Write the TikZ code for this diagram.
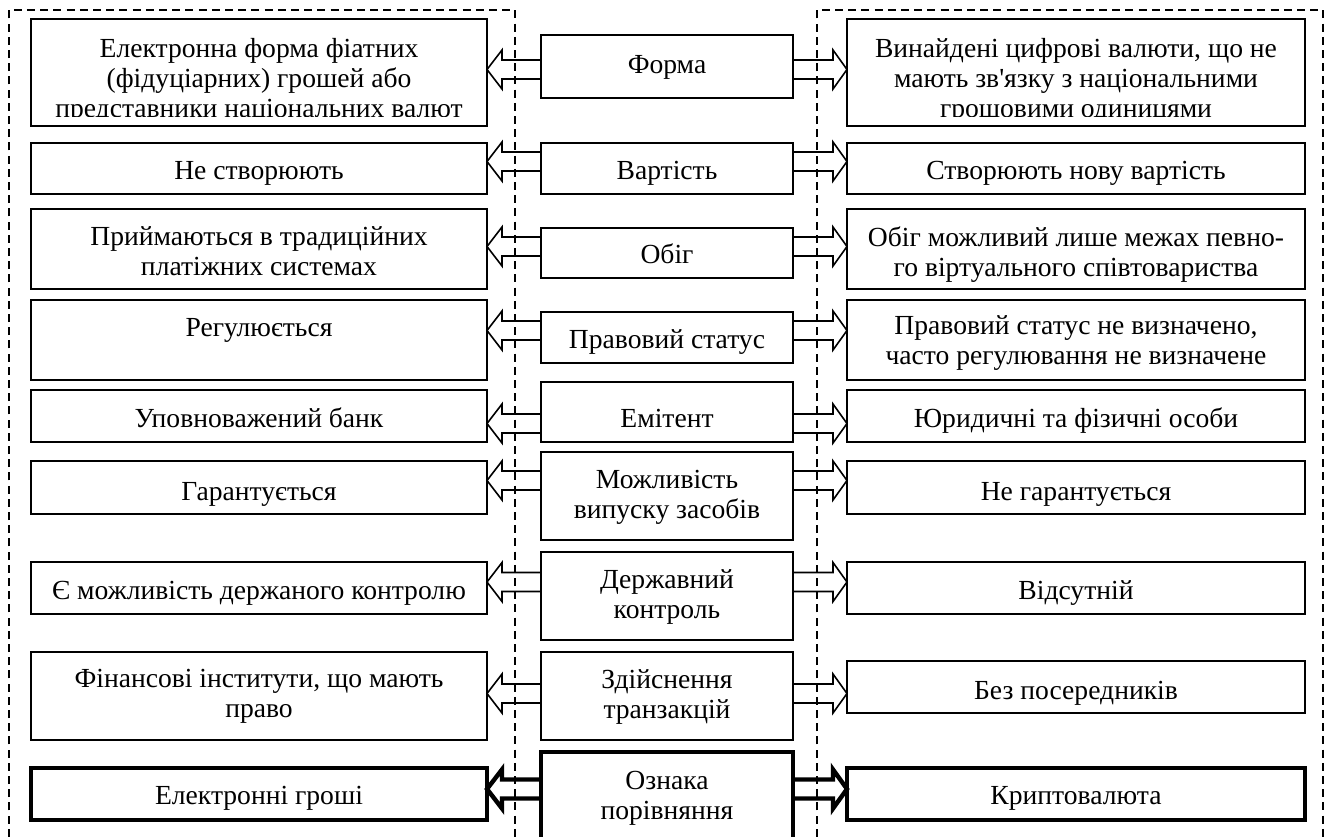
\documentclass[tikz,border=0pt]{standalone}
\usepackage{fontspec}
\setmainfont{Liberation Serif}
\usetikzlibrary{calc}
\tikzset{
  box/.style={draw, line width=1pt, inner sep=0pt, outer sep=0pt, fill=none},
  thickbox/.style={line width=2.2pt},
  txt/.style={inner sep=0pt, align=center, font=\fontsize{13.8}{15}\selectfont, yshift=-1.5pt,
    execute at begin node=\strut, execute at end node=\strut},
  arr/.style={draw, line width=0.8pt, miter limit=20},
  thickarr/.style={line width=2.2pt},
  dashline/.style={draw, line width=0.8pt, dash pattern=on 4pt off 2.6pt},
}
\newcommand{\bx}[6][]{%
  \node[box,#1,minimum width={(#4-#2)*0.5pt},minimum height={(#5-#3)*0.5pt}] (#6) at ({(#2+#4)/2},{(#3+#5)/2}) {};}
% #1 options, #2 middle node, #3 left node, #4 right node, #5 y centre
\newcommand{\twoarr}[5][]{%
  \draw[arr,#1] ($(#2.west |- 0,#5)+(0,-9.5)$) -- ($(#3.east |- 0,#5)+(15,-9.5)$) -- ++(0,-10)
     -- (#3.east |- 0,#5) -- ++(15,19.5) -- ++(0,-10) -- ($(#2.west |- 0,#5)+(0,9.5)$);
  \draw[arr,#1] ($(#2.east |- 0,#5)+(0,-9.5)$) -- ($(#4.west |- 0,#5)+(-14,-9.5)$) -- ++(0,-10)
     -- (#4.west |- 0,#5) -- ++(-14,19.5) -- ++(0,-10) -- ($(#2.east |- 0,#5)+(0,9.5)$);}
\begin{document}
\begin{tikzpicture}[x=0.5pt,y=-0.5pt]
\clip (0,0) rectangle (1328,836);
\fill[white] (0,0) rectangle (1328,836);
% dashed frames
\draw[dashline] (9,850) -- (9,10) -- (515,10) -- (515,850);
\draw[dashline] (817,850) -- (817,10) -- (1323,10) -- (1323,850);
% boxes
\bx{31}{19}{487}{126}{L1} \bx{541}{35}{793}{98}{M1} \bx{847}{19}{1305}{126}{R1}
\bx{31}{143}{487}{194}{L2} \bx{541}{143}{793}{194}{M2} \bx{847}{143}{1305}{194}{R2}
\bx{31}{209}{487}{289}{L3} \bx{541}{228}{793}{278}{M3} \bx{847}{209}{1305}{289}{R3}
\bx{31}{300}{487}{380}{L4} \bx{541}{312}{793}{363}{M4} \bx{847}{300}{1305}{380}{R4}
\bx{31}{390}{487}{442}{L5} \bx{541}{382}{793}{442}{M5} \bx{847}{390}{1305}{442}{R5}
\bx{31}{461}{487}{514}{L6} \bx{541}{452}{793}{540}{M6} \bx{847}{461}{1305}{514}{R6}
\bx{31}{562}{487}{614}{L7} \bx{541}{552}{793}{640}{M7} \bx{847}{562}{1305}{614}{R7}
\bx{31}{652}{487}{740}{L8} \bx{541}{652}{793}{740}{M8} \bx{847}{661}{1305}{713}{R8}
\bx[thickbox]{31}{768}{487}{820}{L9} \bx[thickbox]{541}{752}{793}{870}{M9} \bx[thickbox]{847}{768}{1305}{820}{R9}
% arrows
\twoarr{M1}{L1}{R1}{69.5}
\twoarr{M2}{L2}{R2}{161.5}
\twoarr{M3}{L3}{R3}{246.5}
\twoarr{M4}{L4}{R4}{330.5}
\twoarr{M5}{L5}{R5}{423.5}
\twoarr{M6}{L6}{R6}{480.5}
\twoarr{M7}{L7}{R7}{582}
\twoarr{M8}{L8}{R8}{693.5}
\twoarr[thickarr]{M9}{L9}{R9}{789}
% texts
\begin{scope}
\clip (L1.north west) rectangle ($(L1.south east)+(0,-10)$);
\node[txt] (L1t) at (259,79) {Електронна форма фіатних\\(фідуціарних) грошей або\\представники національних валют};
\end{scope}
\begin{scope}
\clip (R1.north west) rectangle ($(R1.south east)+(0,-10)$);
\node[txt] (R1t) at (1076,79) {Винайдені цифрові валюти, що не\\мають зв\textquotesingle язку з національними\\грошовими одиницями};
\end{scope}
\node[txt] (M1t) at (667,64) {Форма};
\node[txt] (L2t) at (259,170) {Не створюють};
\node[txt] (M2t) at (667,170) {Вартість};
\node[txt] (R2t) at (1076,170) {Створюють нову вартість};
\node[txt] (L3t) at (259,253) {Приймаються в традиційних\\платіжних системах};
\node[txt] (M3t) at (667,254) {Обіг};
\node[txt] (R3t) at (1076,253) {Обіг можливий лише межах певно-\\го віртуального співтовариства};
\node[txt] (L4t) at (259,327) {Регулюється};
\node[txt] (M4t) at (667,339) {Правовий статус};
\node[txt] (R4t) at (1076,342) {Правовий статус не визначено,\\часто регулювання не визначене};
\node[txt] (L5t) at (259,418) {Уповноважений банк};
\node[txt] (M5t) at (667,418) {Емітент};
\node[txt] (R5t) at (1076,418) {Юридичні та фізичні особи};
\node[txt] (L6t) at (259,491) {Гарантується};
\node[txt] (M6t) at (667,496) {Можливість\\випуску засобів};
\node[txt] (R6t) at (1076,491) {Не гарантується};
\node[txt] (L7t) at (259,590) {Є можливість держаного контролю};
\node[txt] (M7t) at (667,596) {Державний\\контроль};
\node[txt] (R7t) at (1076,590) {Відсутній};
\node[txt] (L8t) at (259,695) {Фінансові інститути, що мають\\право};
\node[txt] (M8t) at (667,696) {Здійснення\\транзакцій};
\node[txt] (R8t) at (1076,690) {Без посередників};
\node[txt] (L9t) at (259,795) {Електронні гроші};
\node[txt] (M9t) at (667,797) {Ознака\\порівняння};
\node[txt] (R9t) at (1076,795) {Криптовалюта};
\end{tikzpicture}
\end{document}
